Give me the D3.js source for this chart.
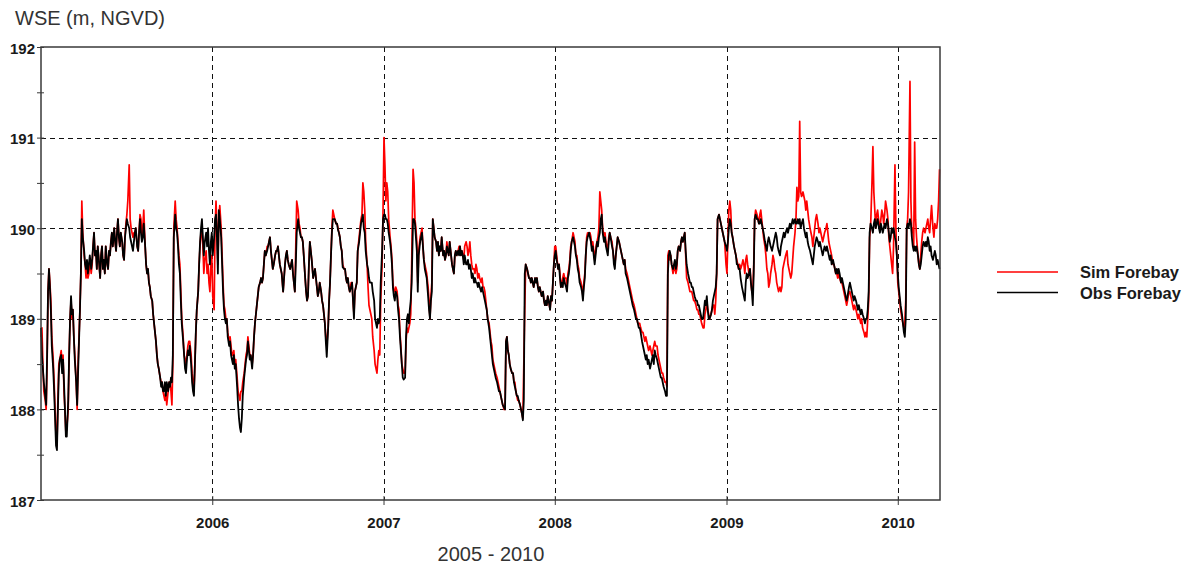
<!DOCTYPE html>
<html>
<head>
<meta charset="utf-8">
<script src="https://cdn.jsdelivr.net/npm/d3@7"></script>
<style>
  html, body { margin: 0; padding: 0; background: #fff; }
  svg { display: block; font-family: "Liberation Sans", Arial, sans-serif; }
</style>
</head>
<body>
<svg id="chart" width="1191" height="565"></svg>
<script>
// days since 2005-01-01 for each sample
var day = [
  0,2,4,6,9,11,13,15,17,19, 21,23,26,28,30,32,34,36,38,40, 43,45,47,49,51,53,55,58,60,62,
  64,66,68,70,72,75,77,79,81,83, 85,87,89,92,94,96,98,100,102,104, 107,109,111,113,115,117,119,121,124,126,
  128,130,132,134,136,138,141,143,145,147, 149,151,153,156,158,160,162,164,166,168, 170,173,175,177,179,181,183,185,188,190,
  192,194,196,198,200,202,205,207,209,211, 213,215,217,219,222,224,226,228,230,232, 234,237,239,241,243,245,247,249,251,254,
  256,258,260,262,264,266,268,271,273,275, 277,279,281,283,286,288,290,292,294,296, 298,300,303,305,307,309,311,313,315,317,
  320,322,324,326,328,330,332,335,337,339, 341,343,345,347,349,352,354,356,358,360, 362,364,366,369,371,373,375,377,379,381,
  384,386,388,390,392,394,396,398,401,403, 405,407,409,411,413,415,418,420,422,424, 426,428,430,433,435,437,439,441,443,445,
  447,450,452,454,456,458,460,462,464,467, 469,471,473,475,477,479,482,484,486,488, 490,492,494,496,499,501,503,505,507,509,
  511,513,516,518,520,522,524,526,528,531, 533,535,537,539,541,543,545,548,550,552, 554,556,558,560,563,565,567,569,571,573,
  575,577,580,582,584,586,588,590,592,594, 597,599,601,603,605,607,609,612,614,616, 618,620,622,624,626,629,631,633,635,637,
  639,641,643,646,648,650,652,654,656,658, 661,663,665,667,669,671,673,675,678,680, 682,684,686,688,690,692,695,697,699,701,
  703,705,707,710,712,714,716,718,720,722, 724,727,729,731,733,735,737,739,741,744, 746,748,750,752,754,756,759,761,763,765,
  767,769,771,773,776,778,780,782,784,786, 788,790,793,795,797,799,801,803,805,808, 810,812,814,816,818,820,822,825,827,829,
  831,833,835,837,839,842,844,846,848,850, 852,854,857,859,861,863,865,867,869,871, 874,876,878,880,882,884,886,889,891,893,
  895,897,899,901,903,906,908,910,912,914, 916,918,920,923,925,927,929,931,933,935, 938,940,942,944,946,948,950,952,955,957,
  959,961,963,965,967,969,972,974,976,978, 980,982,984,987,989,991,993,995,997,999, 1001,1004,1006,1008,1010,1012,1014,1016,1018,1021,
  1023,1025,1027,1029,1031,1033,1036,1038,1040,1042, 1044,1046,1048,1050,1053,1055,1057,1059,1061,1063, 1065,1067,1070,1072,1074,1076,1078,1080,1082,1085,
  1087,1089,1091,1093,1095,1097,1099,1102,1104,1106, 1108,1110,1112,1114,1116,1119,1121,1123,1125,1127, 1129,1131,1134,1136,1138,1140,1142,1144,1146,1148,
  1151,1153,1155,1157,1159,1161,1163,1165,1168,1170, 1172,1174,1176,1178,1180,1183,1185,1187,1189,1191, 1193,1195,1197,1200,1202,1204,1206,1208,1210,1212,
  1214,1217,1219,1221,1223,1225,1227,1229,1232,1234, 1236,1238,1240,1242,1244,1246,1249,1251,1253,1255, 1257,1259,1261,1264,1266,1268,1270,1272,1274,1276,
  1278,1281,1283,1285,1287,1289,1291,1293,1295,1298, 1300,1302,1304,1306,1308,1310,1313,1315,1317,1319, 1321,1323,1325,1327,1330,1332,1334,1336,1338,1340,
  1342,1344,1347,1349,1351,1353,1355,1357,1359,1362, 1364,1366,1368,1370,1372,1374,1376,1379,1381,1383, 1385,1387,1389,1391,1393,1396,1398,1400,1402,1404,
  1406,1408,1411,1413,1415,1417,1419,1421,1423,1425, 1428,1430,1432,1434,1436,1438,1440,1442,1445,1447, 1449,1451,1453,1455,1457,1460,1462,1464,1466,1468,
  1470,1472,1474,1477,1479,1481,1483,1485,1487,1489, 1491,1494,1496,1498,1500,1502,1504,1506,1509,1511, 1513,1515,1517,1519,1521,1523,1526,1528,1530,1532,
  1534,1536,1538,1540,1543,1545,1547,1549,1551,1553, 1555,1558,1560,1562,1564,1566,1568,1570,1572,1575, 1577,1579,1581,1583,1585,1587,1590,1592,1594,1596,
  1598,1600,1602,1604,1607,1609,1611,1613,1615,1617, 1619,1621,1624,1626,1628,1630,1632,1634,1636,1639, 1641,1643,1645,1647,1649,1651,1653,1656,1658,1660,
  1662,1664,1666,1668,1670,1673,1675,1677,1679,1681, 1683,1685,1688,1690,1692,1694,1696,1698,1700,1702, 1705,1707,1709,1711,1713,1715,1717,1719,1722,1724,
  1726,1728,1730,1732,1734,1737,1739,1741,1743,1745, 1747,1749,1751,1754,1756,1758,1760,1762,1764,1766, 1768,1771,1773,1775,1777,1779,1781,1783,1786,1788,
  1790,1792,1794,1796,1798,1800,1803,1805,1807,1809, 1811,1813,1815,1817,1820,1822,1824,1826,1828,1830, 1832,1835,1837,1839,1841,1843,1845,1847,1849,1852,
  1854,1856,1858,1860,1862,1864,1866,1869,1871,1873, 1875,1877,1879,1881,1884,1886,1888,1890,1892,1894, 1896,1898,1901,1903,1905,1907,1909,1911,1913,1915
];

// observed forebay WSE (m)
var obs = [
  188.9,188.6,188.45,188.3,188.15,188.05,188.6,189.3,189.55,189.35,
  189.1,188.7,188.45,188.2,187.9,187.6,187.55,188.0,188.4,188.55,
  188.6,188.4,188.55,188.3,188.0,187.7,187.7,188.1,188.6,189.0,
  189.25,189.05,189.1,188.8,188.55,188.3,188.05,188.4,188.75,189.1,
  189.5,190.1,189.9,189.75,189.6,189.55,189.65,189.5,189.6,189.7,
  189.55,189.65,189.8,189.95,189.7,189.75,189.55,189.8,189.6,189.45,
  189.7,189.8,189.55,189.65,189.5,189.8,189.6,189.55,189.75,189.7,
  189.85,189.95,189.8,190.0,189.85,189.75,189.95,190.1,189.9,189.8,
  189.95,189.85,189.7,189.65,189.9,190.0,190.1,190.05,190.0,189.9,
  189.85,189.8,189.75,189.85,189.95,190.0,189.8,189.75,189.95,190.1,
  189.95,189.85,189.9,190.05,189.8,189.6,189.5,189.55,189.4,189.35,
  189.25,189.2,189.05,188.95,188.85,188.75,188.6,188.5,188.45,188.35,
  188.25,188.3,188.2,188.2,188.3,188.15,188.3,188.2,188.3,188.25,
  188.35,188.3,188.6,189.9,190.15,190.0,189.95,189.8,189.6,189.5,
  189.2,188.95,188.75,188.6,188.45,188.4,188.55,188.65,188.6,188.7,
  188.5,188.3,188.2,188.15,188.5,188.85,189.1,189.3,189.6,189.85,
  190.0,190.1,189.9,189.7,189.85,189.95,189.8,190.0,189.75,189.6,
  189.85,189.95,189.7,189.9,190.1,190.15,189.9,189.5,190.2,190.1,
  189.9,189.6,189.3,189.1,189.0,188.95,189.0,188.8,188.7,188.75,
  188.6,188.55,188.5,188.6,188.45,188.5,188.25,188.05,187.9,187.8,
  187.75,187.9,188.15,188.35,188.45,188.55,188.6,188.75,188.65,188.55,
  188.6,188.45,188.6,188.8,188.95,189.05,189.15,189.25,189.35,189.4,
  189.45,189.4,189.45,189.6,189.75,189.7,189.75,189.8,189.85,189.9,
  189.75,189.65,189.55,189.6,189.7,189.75,189.75,189.8,189.7,189.6,
  189.55,189.5,189.3,189.45,189.6,189.7,189.75,189.65,189.6,189.55,
  189.6,189.65,189.5,189.4,189.3,189.6,189.95,190.1,190.0,189.95,
  189.9,189.9,189.85,189.7,189.45,189.3,189.2,189.25,189.6,189.85,
  189.75,189.65,189.45,189.5,189.55,189.45,189.35,189.25,189.3,189.4,
  189.3,189.2,189.15,189.05,188.95,188.75,188.58,188.9,189.2,189.4,
  189.7,189.95,190.1,190.1,190.1,190.05,190.05,189.98,189.95,189.9,
  189.8,189.75,189.57,189.55,189.55,189.45,189.4,189.45,189.35,189.3,
  189.35,189.4,189.2,189.0,189.3,189.35,189.4,189.75,189.85,189.95,
  190.05,190.1,190.15,190.0,189.95,189.75,189.6,189.55,189.45,189.4,
  189.4,189.4,189.3,189.2,189.0,188.95,188.9,189.0,188.95,189.0,
  189.4,189.75,190.1,190.15,190.15,190.1,190.1,190.05,189.95,189.85,
  189.75,189.6,189.35,189.25,189.2,189.3,189.25,189.1,189.0,188.8,
  188.65,188.5,188.35,188.33,188.35,188.8,189.0,189.05,188.95,189.1,
  189.2,189.4,190.1,190.1,190.05,189.9,189.75,189.3,189.7,189.85,
  189.9,189.95,189.8,189.65,189.55,189.5,189.45,189.25,189.1,189.0,
  189.2,189.3,190.1,190.0,189.9,189.85,189.75,189.85,189.7,189.8,
  189.75,189.9,189.7,189.75,189.65,189.7,189.8,189.75,189.7,189.85,
  189.7,189.6,189.55,189.5,189.7,189.75,189.7,189.75,189.7,189.8,
  189.7,189.75,189.7,189.6,189.7,189.6,189.6,189.65,189.55,189.6,
  189.55,189.45,189.5,189.4,189.45,189.4,189.4,189.35,189.4,189.35,
  189.3,189.35,189.3,189.25,189.2,189.15,189.1,189.0,188.9,188.8,
  188.7,188.6,188.5,188.45,188.4,188.35,188.3,188.25,188.2,188.2,
  188.15,188.1,188.05,188.02,188.0,188.75,188.8,188.65,188.6,188.5,
  188.45,188.4,188.4,188.3,188.25,188.2,188.15,188.15,188.1,188.05,
  188.0,187.95,187.88,188.1,189.5,189.6,189.55,189.5,189.45,189.45,
  189.4,189.45,189.4,189.35,189.45,189.4,189.45,189.35,189.3,189.35,
  189.3,189.25,189.3,189.2,189.15,189.2,189.15,189.25,189.2,189.1,
  189.25,189.2,189.4,189.6,189.7,189.75,189.65,189.55,189.6,189.45,
  189.35,189.4,189.35,189.45,189.4,189.35,189.3,189.45,189.5,189.6,
  189.75,189.85,189.9,189.85,189.8,189.7,189.65,189.55,189.5,189.4,
  189.35,189.3,189.2,189.35,189.45,189.7,189.85,189.9,189.95,189.9,
  189.85,189.75,189.8,189.7,189.6,189.75,189.85,189.8,189.9,189.95,
  190.1,190.15,189.95,189.85,189.9,189.8,189.75,189.7,189.85,189.95,
  189.9,189.8,189.75,189.6,189.55,189.7,189.8,189.9,189.85,189.8,
  189.75,189.7,189.65,189.6,189.65,189.5,189.45,189.4,189.35,189.3,
  189.25,189.2,189.15,189.1,189.05,189.0,189.0,188.95,188.9,188.9,
  188.85,188.75,188.7,188.65,188.6,188.55,188.6,188.5,188.55,188.45,
  188.5,188.55,188.6,188.5,188.65,188.6,188.55,188.5,188.45,188.4,
  188.35,188.35,188.3,188.25,188.2,188.15,188.15,189.5,189.7,189.75,
  189.7,189.6,189.55,189.6,189.65,189.55,189.6,189.75,189.8,189.75,
  189.85,189.9,189.85,189.9,189.95,189.75,189.6,189.5,189.45,189.4,
  189.4,189.35,189.35,189.3,189.25,189.2,189.2,189.15,189.15,189.1,
  189.05,189.0,189.0,189.1,189.2,189.15,189.25,189.1,189.0,189.0,
  189.05,189.1,189.2,189.25,189.3,189.35,189.5,190.1,190.15,190.1,
  190.05,190.0,189.95,189.9,189.85,189.8,189.75,189.85,190.0,190.1,
  190.05,189.95,189.9,189.8,189.75,189.7,189.6,189.6,189.55,189.55,
  189.45,189.35,189.3,189.25,189.2,189.4,189.5,189.45,189.5,189.55,
  189.4,189.3,189.15,189.5,190.1,190.15,190.1,190.1,190.05,190.05,
  190.1,190.05,190.0,189.95,189.85,189.8,189.75,189.85,189.9,189.85,
  189.8,189.75,189.8,189.85,189.9,189.95,189.9,189.8,189.75,189.7,
  189.8,189.85,189.9,189.95,189.9,189.95,190.0,189.95,190.0,190.05,
  190.0,190.05,190.1,190.05,190.1,190.05,190.05,190.1,190.05,190.1,
  190.0,190.05,190.1,190.0,189.95,189.9,189.95,189.85,189.8,189.75,
  189.7,189.65,189.6,189.7,189.8,189.85,189.9,189.85,189.8,189.85,
  189.8,189.75,189.7,189.75,189.8,189.75,189.8,189.75,189.7,189.65,
  189.7,189.6,189.65,189.6,189.55,189.5,189.55,189.5,189.55,189.5,
  189.4,189.45,189.4,189.35,189.3,189.25,189.2,189.25,189.35,189.4,
  189.35,189.3,189.25,189.2,189.25,189.2,189.15,189.1,189.15,189.1,
  189.05,189.1,189.05,189.0,188.95,189.0,189.0,189.1,189.3,189.95,
  190.05,190.0,189.95,190.05,190.1,190.0,190.05,190.1,190.0,189.95,
  190.05,190.0,189.95,190.0,190.05,190.0,190.1,190.05,189.95,189.85,
  189.9,190.0,189.95,190.0,189.9,189.85,189.7,189.5,189.35,189.25,
  189.15,189.05,188.95,188.85,188.8,189.0,190.0,190.05,190.0,190.1,
  190.05,189.9,189.8,189.75,189.8,189.75,189.8,189.7,189.6,189.55,
  189.6,189.7,189.8,189.85,189.8,189.85,189.8,189.9,189.85,189.75,
  189.8,189.7,189.65,189.7,189.75,189.7,189.6,189.65,189.6,189.55
];

// simulated forebay WSE (m)
var sim = [
  188.8,188.9,188.5,188.2,188.1,188.0,188.5,189.3,189.55,189.4,
  189.2,188.8,188.55,188.3,188.0,187.7,187.6,188.1,188.5,188.55,
  188.65,188.5,188.6,188.2,188.0,187.75,187.8,188.0,188.6,189.0,
  189.2,189.0,189.1,188.8,188.6,188.3,188.0,188.5,188.8,189.1,
  189.5,190.3,189.95,189.7,189.6,189.45,189.55,189.45,189.5,189.65,
  189.5,189.6,189.8,189.95,189.7,189.75,189.55,189.8,189.6,189.45,
  189.7,189.8,189.55,189.65,189.5,189.8,189.6,189.55,189.75,189.7,
  189.85,189.95,189.8,190.0,189.85,189.75,189.95,190.1,189.9,189.8,
  189.95,189.85,189.7,189.65,189.9,190.05,190.15,190.3,190.7,190.1,
  190.0,189.95,189.9,189.95,189.95,190.0,189.8,189.75,189.95,190.15,
  190.1,189.9,190.0,190.2,189.8,189.6,189.5,189.55,189.4,189.35,
  189.25,189.2,189.05,188.95,188.85,188.75,188.6,188.5,188.45,188.35,
  188.3,188.3,188.2,188.15,188.1,188.2,188.05,188.2,188.3,188.3,
  188.2,188.05,188.5,190.0,190.3,190.1,190.0,189.85,189.7,189.6,
  189.3,189.0,188.8,188.6,188.55,188.5,188.6,188.7,188.75,188.75,
  188.6,188.4,188.3,188.2,188.5,188.85,189.1,189.3,189.6,189.8,
  189.95,190.0,189.8,189.5,189.65,189.75,189.5,189.6,189.4,189.3,
  189.6,189.7,189.25,189.1,190.0,190.3,190.0,189.6,190.1,190.25,
  190.0,189.7,189.4,189.15,189.1,189.0,189.0,188.85,188.75,188.8,
  188.7,188.6,188.6,188.65,188.5,188.55,188.35,188.2,188.15,188.1,
  188.2,188.2,188.3,188.4,188.5,188.6,188.65,188.8,188.7,188.6,
  188.6,188.5,188.6,188.8,188.95,189.05,189.15,189.25,189.35,189.4,
  189.45,189.4,189.45,189.6,189.75,189.7,189.8,189.8,189.85,189.9,
  189.75,189.65,189.55,189.6,189.7,189.75,189.75,189.8,189.7,189.6,
  189.55,189.5,189.3,189.45,189.6,189.7,189.75,189.65,189.6,189.55,
  189.6,189.65,189.5,189.4,189.3,189.8,190.3,190.2,190.05,190.0,
  189.9,189.9,189.85,189.7,189.45,189.3,189.2,189.25,189.6,189.85,
  189.75,189.65,189.45,189.5,189.55,189.45,189.35,189.25,189.3,189.4,
  189.3,189.2,189.15,189.05,188.95,188.8,188.7,188.9,189.2,189.4,
  189.7,190.0,190.2,190.15,190.1,190.05,190.05,190.0,189.95,189.9,
  189.8,189.75,189.6,189.55,189.55,189.45,189.4,189.45,189.35,189.3,
  189.4,189.4,189.2,189.05,189.3,189.35,189.4,189.75,189.9,190.0,
  190.1,190.15,190.5,190.4,190.2,189.85,189.6,189.35,189.15,189.1,
  189.05,189.0,188.8,188.65,188.5,188.45,188.4,188.55,188.65,188.6,
  189.2,189.6,190.2,191.0,190.7,190.3,190.5,190.4,190.1,189.9,
  189.8,189.65,189.4,189.3,189.3,189.35,189.3,189.15,189.1,188.85,
  188.7,188.5,188.45,188.4,188.4,188.75,188.9,188.85,188.9,188.95,
  189.05,189.6,190.65,190.5,190.1,190.0,189.85,189.4,189.75,189.9,
  189.95,190.0,189.8,189.65,189.6,189.55,189.5,189.35,189.2,189.0,
  189.25,189.4,190.1,190.0,189.9,189.85,189.75,189.85,189.7,189.8,
  189.75,189.9,189.7,189.75,189.65,189.7,189.85,189.75,189.7,189.85,
  189.7,189.6,189.55,189.5,189.7,189.75,189.7,189.75,189.8,189.8,
  189.7,189.75,189.7,189.65,189.8,189.85,189.8,189.7,189.75,189.85,
  189.7,189.6,189.55,189.55,189.5,189.6,189.55,189.45,189.5,189.45,
  189.4,189.45,189.35,189.35,189.3,189.2,189.1,189.0,188.95,188.85,
  188.75,188.7,188.55,188.5,188.45,188.4,188.35,188.3,188.25,188.2,
  188.15,188.1,188.05,188.0,188.0,188.75,188.8,188.65,188.6,188.5,
  188.45,188.4,188.4,188.3,188.3,188.2,188.15,188.1,188.1,188.05,
  188.0,187.95,187.9,188.5,189.1,189.6,189.55,189.5,189.45,189.45,
  189.4,189.45,189.4,189.35,189.45,189.4,189.45,189.35,189.3,189.35,
  189.3,189.25,189.3,189.2,189.15,189.2,189.15,189.25,189.2,189.1,
  189.25,189.2,189.4,189.6,189.8,189.8,189.7,189.55,189.6,189.5,
  189.35,189.4,189.45,189.5,189.45,189.45,189.35,189.5,189.55,189.65,
  189.8,189.85,189.95,189.9,189.85,189.7,189.7,189.6,189.55,189.45,
  189.4,189.35,189.25,189.4,189.5,189.7,189.9,189.95,189.95,189.95,
  189.9,189.8,189.85,189.75,189.65,189.8,189.85,189.9,190.0,190.4,
  190.3,190.2,190.0,189.9,189.95,189.85,189.8,189.75,189.9,189.95,
  189.9,189.85,189.75,189.65,189.6,189.7,189.8,189.9,189.85,189.8,
  189.75,189.7,189.65,189.6,189.65,189.55,189.5,189.45,189.4,189.35,
  189.3,189.25,189.2,189.15,189.1,189.05,189.0,188.95,188.95,188.95,
  188.9,188.85,188.85,188.8,188.75,188.8,188.75,188.7,188.65,188.7,
  188.65,188.6,188.65,188.7,188.75,188.7,188.7,188.6,188.55,188.5,
  188.45,188.4,188.4,188.35,188.3,188.3,188.25,189.7,189.75,189.65,
  189.7,189.6,189.5,189.55,189.6,189.5,189.55,189.75,189.8,189.75,
  189.85,189.9,189.85,189.9,189.95,189.7,189.45,189.4,189.35,189.3,
  189.3,189.3,189.25,189.2,189.2,189.15,189.1,189.1,189.05,189.05,
  189.0,188.95,188.9,188.9,189.05,189.1,189.2,189.1,189.05,189.0,
  189.05,189.1,189.15,189.15,189.05,189.2,189.5,190.1,190.15,190.1,
  190.05,190.0,189.95,189.9,189.85,189.6,189.5,189.9,190.2,190.3,
  190.2,189.95,189.9,189.8,189.75,189.7,189.65,189.6,189.55,189.6,
  189.55,189.6,189.65,189.6,189.5,189.65,189.7,189.6,189.5,189.55,
  189.4,189.3,189.3,189.6,190.1,190.2,190.15,190.1,190.05,190.15,
  190.2,190.1,190.0,189.9,189.8,189.7,189.55,189.5,189.35,189.4,
  189.5,189.6,189.7,189.65,189.55,189.5,189.4,189.35,189.3,189.35,
  189.3,189.35,189.55,189.6,189.65,189.7,189.75,189.6,189.55,189.5,
  189.45,189.5,189.65,189.8,189.95,190.1,190.45,190.3,190.35,191.18,
  190.4,190.35,190.4,190.35,190.3,190.2,190.3,190.2,190.1,190.0,
  189.95,189.9,189.8,189.9,190.0,190.1,190.15,190.05,189.95,190.0,
  189.95,189.9,189.85,189.9,189.95,190.0,190.05,189.95,189.85,189.8,
  189.75,189.7,189.6,189.6,189.55,189.5,189.5,189.45,189.5,189.45,
  189.4,189.4,189.35,189.3,189.25,189.2,189.15,189.2,189.3,189.3,
  189.25,189.2,189.15,189.1,189.15,189.1,189.05,189.0,189.05,189.0,
  188.95,189.0,188.9,188.85,188.8,188.85,188.8,189.0,189.2,189.9,
  190.0,190.5,190.9,190.4,190.2,190.0,190.15,190.2,190.05,190.0,
  190.1,190.2,190.15,190.05,190.15,190.3,190.2,190.1,189.9,189.8,
  189.7,189.6,189.5,189.8,190.7,190.0,189.7,189.4,189.3,189.2,
  189.1,189.0,188.95,188.9,188.95,189.2,190.0,190.1,190.4,191.62,
  190.3,189.95,190.0,189.8,190.95,190.1,189.9,189.7,189.6,189.55,
  189.7,189.85,189.95,190.0,189.95,190.0,190.05,190.1,190.0,189.95,
  190.1,190.25,190.0,189.9,190.05,190.0,190.0,190.1,190.3,190.65
];

var years = [2006, 2007, 2008, 2009, 2010];
var yGrid = [188, 189, 190, 191];
var yTicks = [187, 187.5, 188, 188.5, 189, 189.5, 190, 190.5, 191, 191.5, 192];
var seriesNames = ["Sim Forebay", "Obs Forebay"];
var seriesColors = ["#ff0000", "#000000"];

var t0 = new Date(2005, 0, 1);
var rows = day.map(function (d, i) {
    return {date: d3.timeDay.offset(t0, d), obs: obs[i], sim: sim[i]};
});

var margin = {top: 47, right: 251, bottom: 65, left: 41};
var width = 1191 - margin.left - margin.right;
var height = 565 - margin.top - margin.bottom;

var svg = d3.select("#chart");
var g = svg.append("g")
    .attr("transform", "translate(" + margin.left + "," + margin.top + ")");

var x = d3.scaleTime()
    .domain([t0, d3.timeDay.offset(t0, 1916)])
    .range([0, width]);

var y = d3.scaleLinear()
    .domain([187, 192])
    .range([height, 0]);

function crisp(v) { return Math.round(v) + 0.5; }

// dashed grid
g.append("g").selectAll("line")
    .data(yGrid)
    .enter().append("line")
    .attr("x1", 0).attr("x2", width)
    .attr("y1", function (d) { return crisp(y(d)); })
    .attr("y2", function (d) { return crisp(y(d)); })
    .attr("stroke", "#111")
    .attr("stroke-dasharray", "5,4");

g.append("g").selectAll("line")
    .data(years)
    .enter().append("line")
    .attr("x1", function (d) { return crisp(x(new Date(d, 0, 1))); })
    .attr("x2", function (d) { return crisp(x(new Date(d, 0, 1))); })
    .attr("y1", 0).attr("y2", height)
    .attr("stroke", "#111")
    .attr("stroke-dasharray", "5,4");

// series: sim underneath, obs on top
var line = function (key) {
    return d3.line()
        .x(function (d) { return x(d.date); })
        .y(function (d) { return y(d[key]); });
};

g.append("path")
    .datum(rows)
    .attr("fill", "none")
    .attr("stroke", seriesColors[0])
    .attr("stroke-width", 1.7)
    .attr("stroke-linejoin", "round")
    .attr("d", line("sim"));

g.append("path")
    .datum(rows)
    .attr("fill", "none")
    .attr("stroke", seriesColors[1])
    .attr("stroke-width", 1.8)
    .attr("stroke-linejoin", "round")
    .attr("d", line("obs"));

// frame
g.append("rect")
    .attr("x", 0).attr("y", 0)
    .attr("width", width).attr("height", height)
    .attr("fill", "none")
    .attr("stroke", "#3a3a3a")
    .attr("stroke-width", 1.5);

// y axis
var yAxis = g.append("g")
    .call(d3.axisLeft(y)
        .tickValues(yTicks)
        .tickSize(4)
        .tickPadding(2)
        .tickFormat(function (d) { return d % 1 === 0 ? d : ""; }));
yAxis.select(".domain").remove();
yAxis.selectAll(".tick line").attr("x2", -4).attr("x1", 3).attr("stroke", "#3a3a3a");
yAxis.selectAll("text")
    .attr("font-family", "Liberation Sans, Arial, sans-serif")
    .attr("font-size", 15)
    .attr("font-weight", "bold")
    .attr("fill", "#1a1a1a")
    .attr("dy", "0.4em");

// x axis
var xAxis = g.append("g")
    .attr("transform", "translate(0," + height + ")")
    .call(d3.axisBottom(x)
        .tickValues(years.map(function (d) { return new Date(d, 0, 1); }))
        .tickSize(5)
        .tickPadding(12)
        .tickFormat(d3.timeFormat("%Y")));
xAxis.select(".domain").remove();
xAxis.selectAll(".tick line").attr("y1", -4).attr("stroke", "#3a3a3a");
xAxis.selectAll("text")
    .attr("font-family", "Liberation Sans, Arial, sans-serif")
    .attr("font-size", 15)
    .attr("font-weight", "bold")
    .attr("fill", "#1a1a1a");

// titles
svg.append("text")
    .attr("x", 15).attr("y", 25)
    .attr("font-size", 20)
    .attr("fill", "#333")
    .text("WSE (m, NGVD)");

svg.append("text")
    .attr("x", 491).attr("y", 561)
    .attr("text-anchor", "middle")
    .attr("font-size", 20)
    .attr("fill", "#333")
    .text("2005 - 2010");

// legend
var legend = svg.append("g").attr("transform", "translate(997,272)");
seriesNames.forEach(function (name, i) {
    legend.append("line")
        .attr("x1", 0).attr("x2", 61)
        .attr("y1", i * 20.5).attr("y2", i * 20.5)
        .attr("stroke", seriesColors[i])
        .attr("stroke-width", 1.5);
    legend.append("text")
        .attr("x", 83).attr("y", i * 20.5 + 6)
        .attr("font-size", 16.5)
        .attr("font-weight", "bold")
        .attr("fill", "#1a1a1a")
        .text(name);
});
</script>
</body>
</html>
